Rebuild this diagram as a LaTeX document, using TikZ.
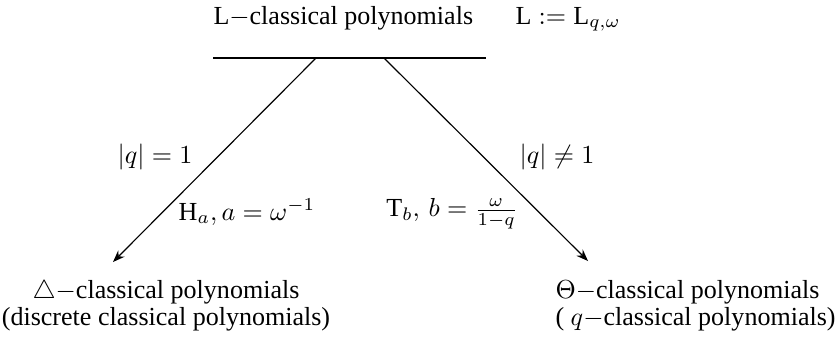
\documentclass[tikz,border=0pt]{standalone}
\usepackage{fontspec}
\setmainfont{Liberation Serif}
\usepackage{tikz}
\usetikzlibrary{arrows.meta,positioning}
\tikzset{branch/.style={-{Stealth[length=1.6mm,width=1.2mm]},line width=.45pt},
  bar/.style={line width=.9pt}}

\begin{document}
\begin{tikzpicture}[x=0.135mm,y=-0.135mm]
\useasboundingbox (0,0) rectangle (840,341);
\node[anchor=base west,inner sep=0pt] (top) at (213,24) {L$-$classical polynomials};\node[anchor=base west,inner sep=0pt] (def) at (515,24) {$\mathrm{L}:=\mathrm{L}_{q,\omega}$};
\coordinate (barL) at (213,58);\coordinate (barR) at (486,58);\draw[bar] (barL)--(barR);
\coordinate (sL) at (316,58);\coordinate (sR) at (384,58);\coordinate (tL) at (113,262);\coordinate (tR) at (588,261);
\draw[branch] (sL)--(tL);\draw[branch] (sR)--(tR);
\node (qeq) at (155,157) {$|q|=1$};\node (qne) at (557,157) {$|q|\neq1$};
\node (Ha) at (247,212) {$\mathrm{H}_a, a=\omega^{-1}$};\node (Tb) at (452,214) {$\mathrm{T}_b,\, b=\frac{\omega}{1-q}$};
\node[align=center,inner sep=0pt] (dis) at (166,306) {$\triangle-$classical polynomials\\[-1.5pt](discrete classical polynomials)};
\node[align=left,anchor=west,inner sep=0pt] (qcl) at (555,306) {$\Theta-$classical polynomials\\[-1.5pt]( $q-$classical polynomials)};
\end{tikzpicture}
\end{document}
